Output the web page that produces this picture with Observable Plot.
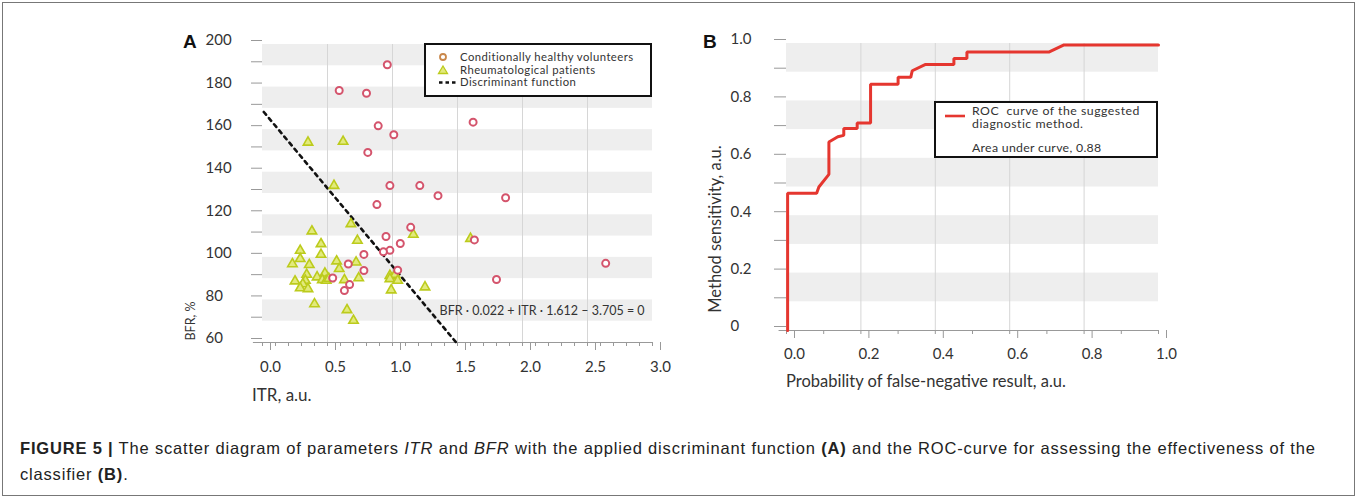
<!DOCTYPE html>
<html><head><meta charset="utf-8">
<script src="https://cdn.jsdelivr.net/npm/d3@7"></script>
<script src="https://cdn.jsdelivr.net/npm/@observablehq/plot@0.6"></script>
<style>
body{margin:0;background:#fff;}
#root{position:relative;width:1357px;height:499px;overflow:hidden;font-family:Lato,"Open Sans",sans-serif;color:#333;}
.abs{position:absolute;white-space:nowrap;}
.lbl{position:absolute;white-space:nowrap;transform:translate(0,-50%);line-height:1;}
.box{position:absolute;border:2px solid #111;box-sizing:border-box;background:#fff;}
#frame{position:absolute;left:2px;top:2px;width:1353px;height:494px;border:1.5px solid #777;box-sizing:border-box;}
.cap{position:absolute;left:20px;font-family:"Liberation Sans",Arial,sans-serif;font-size:16.5px;letter-spacing:0.82px;color:#222;line-height:1;transform:translate(0,-50%);white-space:nowrap;}
</style></head><body><div id="root"><div id="frame"></div></div>
<script>
// ---------- Panel A data ----------
const healthyITR = [0.96,0.59,0.80,0.89,1.01,0.81,1.62,0.98,1.21,1.35,0.88,1.87,1.14,0.95,1.06,0.98,0.93,0.78,1.63,2.64,1.80,0.66,1.04,0.78,0.54,0.67,0.63];
const healthyBFR = [190.5,178.4,177.1,161.8,157.6,149.3,163.5,133.7,133.7,129,124.8,128,114.1,109.8,106.5,103.3,102.6,101.4,108.2,97.2,89.6,96.9,94.0,93.8,90.3,87.2,84.4];
const patientITR = [0.35,0.62,0.55,0.68,1.16,0.38,0.73,0.45,0.29,0.45,0.29,0.57,0.72,0.23,0.36,0.59,0.48,0.34,0.98,1.02,0.42,0.46,0.49,0.25,0.33,0.63,0.74,0.98,1.04,0.31,0.29,0.35,0.99,1.25,0.40,0.65,0.70,1.60,0.51];
const patientBFR = [154,154.4,133.7,115.7,110.7,112.3,107.9,106.3,103.2,101.3,99.3,98.2,97.7,96.9,96.5,94.6,92.5,91.9,91.4,91.9,90.7,89.4,89.1,88.8,89.1,89.4,90.3,89.9,89.1,87.5,85.6,85.2,84.6,86.0,78.1,75.3,70.3,108.8,90.0];
const discriminantITR = [0.01, 1.49];
const discriminantBFR = [168.3, 60];
const equationText = ["BFR · 0.022 + ITR · 1.612 – 3.705 = 0"];
const equationPos = [{ITR: 1.362, BFR: 75}];
const xTicksA = [0,0.5,1,1.5,2,2.5,3];
const xMinorA = [0,0.1,0.2,0.3,0.4,0.5,0.6,0.7,0.8,0.9,1,1.1,1.2,1.3,1.4,1.5,1.6,1.7,1.8,1.9,2,2.1,2.2,2.3,2.4,2.5,2.6,2.7,2.8,2.9,3];
const yTicksA = [60,70,80,90,100,110,120,130,140,150,160,170,180,190,200];
const yLabelsA = [60,80,100,120,140,160,180,200];
const gridXA = [0.5,1,1.5,2,2.5];
const bandsA = [[190,200],[170,180],[150,160],[130,140],[110,120],[90,100],[70,80]];

// ---------- Panel B data ----------
const rocFPR = [0.003,0.003,0.081,0.087,0.114,0.114,0.138,0.154,0.154,0.190,0.190,0.226,0.226,0.300,0.300,0.334,0.338,0.374,0.450,0.450,0.485,0.485,0.705,0.746,1.0];
const rocTPR = [0,0.478,0.478,0.500,0.544,0.657,0.675,0.680,0.704,0.704,0.723,0.723,0.858,0.858,0.882,0.882,0.905,0.927,0.927,0.948,0.948,0.970,0.970,0.995,0.995];
const xTicksB = [0,0.2,0.4,0.6,0.8,1.0];
const xMinorB = [0,0.1,0.2,0.3,0.4,0.5,0.6,0.7,0.8,0.9,1.0];
const yTicksB = [0,0.1,0.2,0.3,0.4,0.5,0.6,0.7,0.8,0.9,1.0];
const yLabelsB = [0,0.2,0.4,0.6,0.8,1.0];
const gridXB = [0.2,0.4,0.6,0.8];
const bandsB = [[0.9,1.0],[0.7,0.8],[0.5,0.6],[0.3,0.4],[0.1,0.2]];

const healthy = healthyITR.map((v,i)=>({ITR:v, BFR:healthyBFR[i]}));
const patients = patientITR.map((v,i)=>({ITR:v, BFR:patientBFR[i]}));
const discriminant = discriminantITR.map((v,i)=>({ITR:v, BFR:discriminantBFR[i]}));
const roc = rocFPR.map((v,i)=>({fpr:v, tpr:rocTPR[i]}));

const root = document.getElementById("root");
const font = "Lato, 'Open Sans', sans-serif";

const plotA = Plot.plot({
  width: 500, height: 390,
  marginLeft: 92, marginRight: 18, marginTop: 24, marginBottom: 68,
  x: {domain: [0,3]}, y: {domain: [60,200]},
  style: {fontFamily: font, fontSize: "15px", color: "#333", background: "transparent", overflow: "visible"},
  marks: [
    Plot.rect(bandsA, {x1: 0, x2: 3, y1: d=>d[0], y2: d=>d[1], fill: "#eeeeee"}),
    Plot.ruleX(gridXA, {stroke: "#d6d6d6", strokeWidth: 1}),
    Plot.ruleY([60], {x1: -0.07, x2: 3, stroke: "#999", strokeWidth: 1.2}),
    Plot.axisX({ticks: xMinorA, tickSize: 4, tickFormat: () => "", stroke: "#999", label: null}),
    Plot.axisX({ticks: xTicksA, tickSize: 8, tickPadding: 11, tickFormat: d3.format(".1f"), dx: 8, stroke: "#999", fill: "#333", label: null}),
    Plot.axisY({ticks: yTicksA, tickSize: 11, tickPadding: 46, textAnchor: "start", dy: -4,
      tickFormat: d => yLabelsA.includes(d) ? String(d) : "", stroke: "#999", fill: "#333", label: null}),
    Plot.line(discriminant, {x: "ITR", y: "BFR", stroke: "#111", strokeWidth: 2.6, strokeDasharray: "3.5,4.5"}),
    Plot.dot(patients, {x: "ITR", y: "BFR", symbol: "triangle", r: 3.5, fill: "#e2ea7c", stroke: "#bccb1c", strokeWidth: 1.6}),
    Plot.dot(healthy, {x: "ITR", y: "BFR", r: 3.5, fill: "#fff", stroke: "#d4546c", strokeWidth: 2}),
    Plot.text(equationPos, {x: "ITR", y: "BFR", text: () => equationText[0], textAnchor: "start", fontSize: 12.5, fill: "#333"})
  ]
});
plotA.style.position = "absolute"; plotA.style.left = "170px"; plotA.style.top = "20px";
root.appendChild(plotA);

const plotB = Plot.plot({
  width: 490, height: 390,
  marginLeft: 96, marginRight: 22, marginTop: 23, marginBottom: 80,
  x: {domain: [0,1]}, y: {domain: [0,1]},
  style: {fontFamily: font, fontSize: "15px", color: "#333", background: "transparent", overflow: "visible"},
  marks: [
    Plot.rect(bandsB, {x1: 0, x2: 1, y1: d=>d[0], y2: d=>d[1], fill: "#eeeeee"}),
    Plot.ruleX(gridXB, {stroke: "#d6d6d6", strokeWidth: 1}),
    Plot.ruleY([0], {x1: -0.02, x2: 1, stroke: "#999", strokeWidth: 1.2}),
    Plot.axisX({ticks: xMinorB, tickSize: 4, tickFormat: () => "", stroke: "#999", label: null}),
    Plot.axisX({ticks: xTicksB, tickSize: 8, tickPadding: 10, tickFormat: d3.format(".1f"), dx: 8, stroke: "#999", fill: "#333", label: null}),
    Plot.axisY({ticks: yTicksB, tickSize: 12, tickPadding: 44, textAnchor: "start", dy: -4,
      tickFormat: d => yLabelsB.some(v => Math.abs(v-d) < 1e-9) ? (d === 0 ? "0" : d3.format(".1f")(d)) : "", stroke: "#999", fill: "#333", label: null}),
    Plot.line(roc, {x: "fpr", y: "tpr", stroke: "#e5362f", strokeWidth: 3, strokeLinejoin: "miter"})
  ]
});
plotB.style.position = "absolute"; plotB.style.left = "690px"; plotB.style.top = "20px";
root.appendChild(plotB);

function addHTML(html){ root.insertAdjacentHTML("beforeend", html); }

// panel letters
addHTML(`<div class="lbl" style="left:183px;top:41px;font-family:'Liberation Sans',Arial,sans-serif;font-weight:bold;font-size:19px;color:#111;">A</div>`);
addHTML(`<div class="lbl" style="left:703px;top:41px;font-family:'Liberation Sans',Arial,sans-serif;font-weight:bold;font-size:19px;color:#111;">B</div>`);
// axis titles
addHTML(`<div class="abs" style="left:191px;top:321px;font-size:12.5px;line-height:1;transform:translate(-50%,-50%) rotate(-90deg);">BFR, %</div>`);
addHTML(`<div class="lbl" style="left:252px;top:394px;font-size:17px;">ITR, a.u.</div>`);
addHTML(`<div class="abs" style="left:715px;top:229px;font-size:16.5px;line-height:1;transform:translate(-50%,-50%) rotate(-90deg);">Method  sensitivity, a.u.</div>`);
addHTML(`<div class="lbl" style="left:786px;top:381px;font-size:16.5px;">Probability of false-negative result, a.u.</div>`);

// legend A
addHTML(`<div class="box" style="left:424px;top:43px;width:228px;height:54px;"></div>`);
addHTML(`<svg class="abs" style="left:424px;top:43px;" width="40" height="54">
  <circle cx="19" cy="14" r="3" fill="#fff" stroke="#c9874a" stroke-width="1.8"/>
  <path d="M19,23 L23.5,30.5 L14.5,30.5 Z" fill="#e2ea7c" stroke="#bccb1c" stroke-width="1.3"/>
  <line x1="15" x2="32" y1="39.5" y2="39.5" stroke="#111" stroke-width="2.4" stroke-dasharray="3.5,3"/>
</svg>`);
const legendA = ["Conditionally healthy volunteers","Rheumatological patients","Discriminant function"];
[57,69.5,82].forEach((y,i)=>addHTML(`<div class="lbl" style="left:460px;top:${y}px;font-size:11.3px;letter-spacing:0.45px;">${legendA[i]}</div>`));

// legend B
addHTML(`<div class="box" style="left:934px;top:101px;width:224px;height:57px;"></div>`);
addHTML(`<svg class="abs" style="left:934px;top:101px;" width="36" height="30"><line x1="11" x2="31" y1="15" y2="15" stroke="#e5362f" stroke-width="2.6"/></svg>`);
addHTML(`<div class="abs" style="left:972px;top:103.5px;font-size:12.3px;line-height:13px;letter-spacing:0.5px;">ROC&nbsp; curve of the suggested<br>diagnostic method.</div>`);
addHTML(`<div class="lbl" style="left:972px;top:147.5px;font-size:12.3px;letter-spacing:0.3px;">Area under curve, 0.88</div>`);

// caption
addHTML(`<div class="cap" style="top:448px;"><b>FIGURE 5 |</b> The scatter diagram of parameters <i>ITR</i> and <i>BFR</i> with the applied discriminant function <b>(A)</b> and the ROC-curve for assessing the effectiveness of the</div>`);
addHTML(`<div class="cap" style="top:474px;">classifier <b>(B)</b>.</div>`);
</script>
</body></html>
